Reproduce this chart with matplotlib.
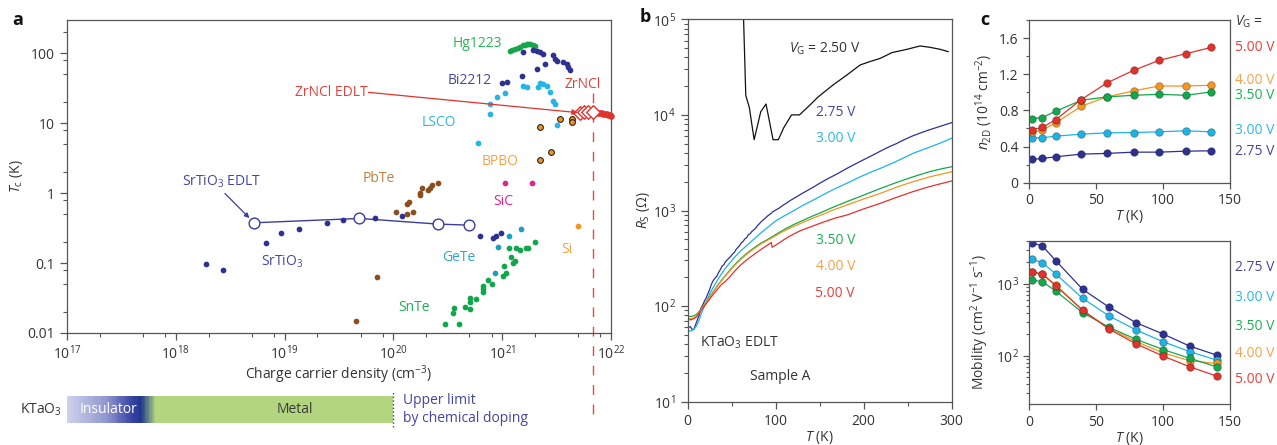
import matplotlib
matplotlib.use("Agg")
import matplotlib.pyplot as plt
import numpy as np
from matplotlib.colors import LinearSegmentedColormap
from matplotlib.ticker import LogLocator, NullFormatter, FixedLocator, MultipleLocator

plt.rcParams['font.family'] = ['Open Sans', 'DejaVu Sans']
plt.rcParams['mathtext.fontset'] = 'custom'
plt.rcParams['mathtext.rm'] = 'Open Sans'
plt.rcParams['mathtext.it'] = 'Open Sans:italic'
plt.rcParams['mathtext.bf'] = 'Open Sans:bold'
plt.rcParams['axes.edgecolor'] = '#555555'
plt.rcParams['xtick.color'] = '#555555'
plt.rcParams['ytick.color'] = '#555555'
plt.rcParams['xtick.labelcolor'] = '#333333'
plt.rcParams['ytick.labelcolor'] = '#333333'
plt.rcParams['axes.labelcolor'] = '#333333'

# ---------------- panel a: Tc versus carrier density ----------------
hg_n = [1.18e21, 1.23e21, 1.31e21, 1.40e21, 1.46e21, 1.55e21, 1.62e21, 1.69e21, 1.73e21, 1.80e21, 1.92e21, 2.0e21]
hg_tc = [108, 112, 114, 120, 123, 130, 133, 134, 135, 134, 130, 127]

bi_n = [1.54e21, 1.93e21, 2.08e21, 2.22e21, 2.36e21, 2.95e21, 3.06e21, 3.17e21, 3.60e21, 3.92e21,
        4.05e21, 4.20e21, 2.47e21, 2.10e21, 1.51e21, 9.9e20, 1.10e21]
bi_tc = [104, 110, 108, 104, 99, 94, 84, 79, 75, 71, 64, 58, 71, 60, 47, 38, 39]

lsco_n = [1.54e21, 1.68e21, 2.15e21, 2.22e21, 2.39e21, 2.56e21, 2.75e21, 2.95e21, 3.06e21, 3.17e21,
          1.06e21, 8.9e20, 7.7e20, 7.8e20, 6.0e20]
lsco_tc = [34, 33, 33, 38, 37, 34, 28, 21, 19, 9.4, 27, 24, 19, 13.5, 5.3]

bpbo_n = [3.40e21, 4.35e21, 4.41e21, 2.22e21, 2.79e21, 2.22e21]
bpbo_tc = [11.4, 11.7, 10.4, 8.7, 3.9, 3.0]

zr_edlt_n = [5.19e21, 5.65e21, 6.18e21, 6.79e21]
zr_edlt_tc = [14.0, 14.3, 14.6, 14.6]

zr_n = [7.3e21, 7.6e21, 7.9e21, 8.2e21, 8.5e21, 8.8e21, 9.1e21, 9.4e21, 9.7e21, 1.0e22]
zr_tc = [14.4, 14.2, 13.9, 13.8, 13.7, 13.5, 13.4, 13.2, 13.0, 12.7]

sic_n = [1.06e21, 1.89e21]
sic_tc = [1.4, 1.4]

pbte_n = [2.59e20, 2.25e20, 2.17e20, 1.82e20, 1.76e20, 2.09e20, 1.76e20, 1.40e20, 1.34e20, 1.50e20,
          1.34e20, 1.06e20, 7.0e19, 4.5e19]
pbte_tc = [1.38, 1.30, 1.17, 1.17, 1.01, 1.10, 0.94, 0.75, 0.71, 0.54, 0.51, 0.54, 0.064, 0.0148]

sto_edlt_n = [5.2e18, 4.86e19, 2.59e20, 4.95e20]
sto_edlt_tc = [0.377, 0.435, 0.361, 0.349]

sto_n = [1.9e18, 2.7e18, 6.7e18, 9.2e18, 1.36e19, 2.44e19, 3.46e19, 6.8e19, 1.19e20, 2.41e20,
         6.25e20, 8.3e20, 8.7e20, 9.75e20]
sto_tc = [0.096, 0.079, 0.195, 0.271, 0.303, 0.377, 0.411, 0.435, 0.474, 0.377, 0.245, 0.23, 0.243, 0.266]

gete_n = [1.49e21, 1.16e21, 9.2e20, 8.6e20]
gete_tc = [0.306, 0.243, 0.168, 0.071]

snte_n = [2.0e21, 1.74e21, 1.66e21, 1.46e21, 1.34e21, 1.16e21, 1.20e21, 1.31e21, 1.27e21, 1.04e21,
          1.08e21, 1.02e21, 8.0e20, 7.4e20, 6.7e20, 6.7e20, 6.7e20, 5.8e20, 5.06e20, 5.06e20,
          5.06e20, 4.55e20, 3.63e20, 3.51e20, 2.98e20, 4.03e20]
snte_tc = [0.201, 0.162, 0.162, 0.153, 0.166, 0.166, 0.123, 0.107, 0.099, 0.091,
           0.071, 0.065, 0.051, 0.057, 0.047, 0.042, 0.038, 0.031, 0.032, 0.028,
           0.0218, 0.0238, 0.0225, 0.0191, 0.0134, 0.0134]

si_n = [4.94e21]
si_tc = [0.338]

doping_limit_n = 6.8e21
metal_limit_n = 1e20

# ---------------- panel b: sheet resistance ----------------
T_275 = [1, 3, 5, 7, 9, 11, 13, 15, 17, 19, 21, 23, 25, 27, 29, 31, 33, 35, 37, 39, 41, 43, 45, 47, 49,
         51, 53, 55, 57, 59, 61, 63, 65, 67, 69, 71, 73, 75, 77, 79, 81, 83, 85, 88, 91, 94, 97, 100,
         104, 108, 112, 117, 122, 128, 135, 143, 150, 160, 170, 181, 190, 200, 210, 219, 228, 237,
         246, 256, 265, 275, 288, 300]
R_275 = [60, 61, 57, 57, 64, 72, 80, 95, 102, 113, 122, 135, 150, 170, 185, 196, 205, 224, 240, 262,
         270, 292, 305, 318, 332, 350, 365, 392, 410, 430, 460, 475, 505, 520, 560, 572, 605, 625, 650,
         690, 720, 755, 785, 830, 880, 920, 975, 1010, 1060, 1130, 1190, 1280, 1360, 1470, 1600, 1760,
         1930, 2170, 2420, 2760, 3050, 3400, 3780, 4180, 4600, 5000, 5500, 6050, 6500, 7000, 7650, 8300]

T_300 = [1, 4, 7, 10, 13, 16, 19, 22, 26, 30, 34, 38, 43, 48, 54, 60, 67, 75, 83, 92, 101, 110, 120,
         130, 143, 155, 168, 181, 195, 210, 219, 235, 256, 275, 290, 300]
R_300 = [55, 55, 57, 62, 72, 86, 100, 116, 140, 163, 188, 215, 250, 285, 330, 375, 430, 500, 580, 680,
         790, 880, 990, 1120, 1290, 1480, 1700, 1930, 2230, 2560, 2760, 3200, 3960, 4600, 5200, 5700]

T_350 = [1, 4, 7, 10, 13, 16, 19, 22, 26, 30, 34, 38, 43, 48, 54, 60, 67, 75, 83, 92, 100, 110, 120,
         130, 140, 150, 165, 181, 200, 219, 237, 256, 275, 290, 300]
R_350 = [78, 78, 79, 82, 88, 95, 104, 114, 129, 146, 165, 184, 210, 238, 275, 312, 356, 405, 455, 505,
         560, 635, 710, 780, 860, 940, 1080, 1240, 1450, 1700, 1960, 2250, 2550, 2750, 2870]

T_400 = [1, 4, 7, 10, 13, 16, 19, 22, 26, 30, 34, 38, 43, 48, 54, 60, 67, 75, 83, 92, 100, 110, 120,
         130, 140, 150, 165, 181, 200, 219, 237, 256, 275, 290, 300]
R_400 = [74, 74, 75, 79, 86, 94, 103, 113, 128, 145, 163, 182, 207, 234, 270, 306, 348, 396, 445, 495,
         545, 615, 680, 745, 815, 885, 1010, 1143, 1320, 1514, 1750, 2000, 2250, 2420, 2545]

T_500 = [1, 4, 7, 10, 13, 16, 19, 22, 26, 30, 34, 38, 43, 48, 54, 60, 67, 75, 83, 90, 94, 95, 96, 101,
         110, 120, 128, 143, 155, 167, 181, 200, 219, 237, 256, 275, 290, 300]
R_500 = [72, 72, 74, 77, 84, 92, 100, 109, 122, 136, 151, 167, 182, 203, 235, 268, 304, 345, 390, 430,
         455, 462, 412, 440, 500, 565, 615, 693, 760, 830, 897, 1040, 1189, 1370, 1575, 1780, 1930, 2037]

T_250 = [62, 63.5, 66, 70, 75.5, 83, 89, 97, 103, 109, 118, 127, 139, 148.5, 165, 181, 196, 207, 219,
         232, 249, 264, 275, 287, 296]
R_250 = [2e5, 1e5, 16000, 12000, 5500, 10800, 13000, 5500, 5500, 7300, 10000, 10000, 12700, 15500,
         20500, 26200, 33300, 36100, 39100, 44800, 48500, 52600, 51000, 48500, 45900]

# ---------------- panel c: carrier density and mobility ----------------
T_n = [2, 10, 20, 39, 58, 78, 97, 117, 136]
n_275 = [0.257, 0.268, 0.287, 0.316, 0.324, 0.338, 0.338, 0.349, 0.353]
n_300 = [0.497, 0.497, 0.515, 0.537, 0.552, 0.555, 0.563, 0.574, 0.563]
n_350 = [0.71, 0.721, 0.791, 0.912, 0.949, 0.967, 0.978, 0.967, 1.004]
n_400 = [0.563, 0.58, 0.662, 0.846, 0.949, 1.015, 1.07, 1.07, 1.078]
n_500 = [0.588, 0.611, 0.699, 0.919, 1.103, 1.243, 1.353, 1.427, 1.497]

T_mu = [2, 10, 20, 40, 60, 80, 100, 120, 140]
mu_275 = [3775, 3390, 2120, 844, 472, 288, 201, 136, 102]
mu_300 = [2210, 1990, 1380, 631, 357, 228, 157, 114, 87]
mu_350 = [1137, 1078, 798, 398, 248, 169, 122, 92, 70]
mu_400 = [1486, 1380, 968, 425, 240, 157, 110, 85, 78]
mu_500 = [1486, 1365, 948, 433, 233, 146, 99, 70, 52]

gate_labels = ['2.75 V', '3.00 V', '3.50 V', '4.00 V', '5.00 V']

C_BLUE = '#2e3192'
C_CYAN = '#1cb4e6'
C_GREEN = '#12a84c'
C_ORANGE = '#f7941d'
C_RED = '#e2322c'
gate_text = ['#45469e', '#2bb7e6', '#1fae55', '#f5a24a', '#e2403a']

W, H = 1277, 445
fig = plt.figure(figsize=(W / 100, H / 100), dpi=100)


def box(l, t, r, b):
    return [l / W, 1 - b / H, (r - l) / W, (b - t) / H]


TXT = '#333333'
FS = 10

# ======== panel a ========
axa = fig.add_axes(box(67, 20, 611, 333))
axa.set_xscale('log')
axa.set_yscale('log')
axa.set_xlim(1e17, 1e22)
axa.set_ylim(0.01, 300)

dot = dict(s=17, linewidths=0, zorder=3)
axa.scatter(hg_n, hg_tc, color='#19a64a', **dot)
axa.scatter(bi_n, bi_tc, color=C_BLUE, **dot)
axa.scatter(lsco_n, lsco_tc, color='#22b5e5', **dot)
axa.scatter(bpbo_n, bpbo_tc, s=17, color='#f7941d', edgecolors='#222222', linewidths=0.8, zorder=3)
axa.scatter(sic_n, sic_tc, color='#e0238c', **dot)
axa.scatter(pbte_n, pbte_tc, color='#8a4f1f', **dot)
axa.scatter(sto_n, sto_tc, color=C_BLUE, **dot)
axa.scatter(gete_n, gete_tc, color='#1e9fc0', **dot)
axa.scatter(snte_n, snte_tc, color='#0ea84a', **dot)
axa.scatter(si_n, si_tc, color='#f7941d', **dot)
axa.scatter(zr_n, zr_tc, s=22, color='#e2322c', linewidths=0, zorder=4, clip_on=False)
axa.scatter(zr_edlt_n, zr_edlt_tc, s=48, marker='D', facecolors='white', edgecolors='#e2322c',
            linewidths=1.0, zorder=5)

axa.plot(sto_edlt_n, sto_edlt_tc, '-', color='#3a3d9c', lw=1.0, zorder=2)
axa.scatter(sto_edlt_n, sto_edlt_tc, s=60, facecolors='white', edgecolors='#3a3d9c', linewidths=1.0,
            zorder=4)

# upper bound from chemical doping
axa.plot([doping_limit_n, doping_limit_n], [26.8, 5.7e-4], color='#e8474a', lw=1.0,
         dashes=(7, 7), clip_on=False, zorder=1)

lbl = dict(fontsize=FS, va='center', zorder=6)
axa.text(1.0e21, 138, 'Hg1223', color='#2bb35a', ha='right', **lbl)
axa.text(8.0e20, 41, 'Bi2212', color='#45469e', ha='right', **lbl)
axa.text(5.47e21, 36, 'ZrNCl', color='#e2403a', ha='center', **lbl)
axa.text(5.8e19, 27.7, 'ZrNCl EDLT', color='#e2403a', ha='right', **lbl)
axa.text(2.6e20, 10.1, 'LSCO', color='#2bb7e6', ha='center', **lbl)
axa.text(9.5e20, 2.8, 'BPBO', color='#f5a24a', ha='center', **lbl)
axa.text(7.3e19, 1.64, 'PbTe', color='#c0813f', ha='center', **lbl)
axa.text(1.03e21, 0.75, 'SiC', color='#e0238c', ha='center', **lbl)
axa.text(2.63e18, 1.44, r'SrTiO$_3$ EDLT', color='#45469e', ha='center', **lbl)
axa.text(9.5e18, 0.104, r'SrTiO$_3$', color='#45469e', ha='center', **lbl)
axa.text(4.0e20, 0.12, 'GeTe', color='#2aa8c8', ha='center', **lbl)
axa.text(1.55e20, 0.0228, 'SnTe', color='#1fae55', ha='center', **lbl)
axa.text(3.9e21, 0.158, 'Si', color='#f5a24a', ha='center', **lbl)

axa.annotate('', xy=(4.95e21, 14.2), xytext=(5.9e19, 27.7),
             arrowprops=dict(arrowstyle='-|>', color='#e2322c', lw=0.9, mutation_scale=8,
                             shrinkA=0, shrinkB=0), zorder=6)
axa.annotate('', xy=(4.75e18, 0.44), xytext=(2.83e18, 0.99),
             arrowprops=dict(arrowstyle='-|>', color='#3a3d9c', lw=0.9, mutation_scale=7,
                             shrinkA=0, shrinkB=0), zorder=6)

axa.xaxis.set_major_locator(FixedLocator([1e17, 1e18, 1e19, 1e20, 1e21, 1e22]))
axa.set_xticklabels([r'$10^{17}$', r'$10^{18}$', r'$10^{19}$', r'$10^{20}$', r'$10^{21}$', r'$10^{22}$'])
axa.xaxis.set_minor_locator(LogLocator(base=10, subs=(2, 5, 8)))
axa.xaxis.set_minor_formatter(NullFormatter())
axa.yaxis.set_major_locator(FixedLocator([0.01, 0.1, 1, 10, 100]))
axa.set_yticklabels(['0.01', '0.1', '1', '10', '100'])
axa.yaxis.set_minor_locator(LogLocator(base=10, subs=(2, 5, 8)))
axa.yaxis.set_minor_formatter(NullFormatter())
axa.tick_params(which='both', direction='out', labelsize=FS)
axa.tick_params(which='major', length=5, width=0.9)
axa.tick_params(which='minor', length=3, width=0.8)
axa.set_xlabel(r'Charge carrier density (cm$^{-3}$)', fontsize=FS, labelpad=0)
axa.set_ylabel(r'$T_{\rm c}$ (K)', fontsize=FS, labelpad=2)

# phase bar for KTaO3
axbar = fig.add_axes(box(67, 396, 611, 423))
axbar.set_xscale('log')
axbar.set_xlim(1e17, 1e22)
axbar.set_ylim(0, 1)
axbar.axis('off')
bar_cmap = LinearSegmentedColormap.from_list(
    'ktao', [(0.0, '#cdd1ea'), (0.12, '#8f95cf'), (0.19, '#3f4aa5'), (0.225, '#1f3590'),
             (0.27, '#b3d57f'), (1.0, '#b3d57f')])
edges = np.logspace(17, np.log10(metal_limit_n), 301)
vals = np.linspace(0, 1, 300)[None, :]
axbar.pcolormesh(edges, [0, 1], vals, cmap=bar_cmap, shading='flat')
axbar.plot([metal_limit_n, metal_limit_n], [-0.15, 1.2], ':', color='#3c3f99', lw=1.0, clip_on=False)
axbar.text(-0.009, 0.5, r'KTaO$_3$', transform=axbar.transAxes, ha='right', va='center',
           fontsize=FS, color=TXT)
axbar.text(2.4e17, 0.5, 'Insulator', ha='center', va='center', fontsize=FS, color='white')
axbar.text(1.25e19, 0.5, 'Metal', ha='center', va='center', fontsize=FS, color='#3a3a3a')
axbar.text(1.22e20, 0.85, 'Upper limit', ha='left', va='center', fontsize=FS, color='#45469e')
axbar.text(1.22e20, 0.18, 'by chemical doping', ha='left', va='center', fontsize=FS, color='#45469e')

# ======== panel b ========
axb = fig.add_axes(box(687.7, 19.3, 951.7, 401.7))
axb.set_yscale('log')
axb.set_xlim(0, 300)
axb.set_ylim(10, 1e5)
axb.plot(T_250, R_250, color='#111111', lw=0.9)
axb.plot(T_275, R_275, color=C_BLUE, lw=0.9)
axb.plot(T_300, R_300, color=C_CYAN, lw=0.9)
axb.plot(T_350, R_350, color=C_GREEN, lw=0.9)
axb.plot(T_400, R_400, color=C_ORANGE, lw=0.9)
axb.plot(T_500, R_500, color=C_RED, lw=0.9)
axb.text(115, 49000, r'$V_{\rm G}$ = 2.50 V', fontsize=FS, color=TXT, ha='left', va='center')
b_label_y = [10500, 5600, 490, 257, 137]
for lab, yv, c in zip(gate_labels, b_label_y, gate_text):
    axb.text(190, yv, lab, fontsize=FS, color=c, ha='right', va='center')
axb.text(14, 41, r'KTaO$_3$ EDLT', fontsize=FS, color=TXT, ha='left', va='center')
axb.text(71, 18.2, 'Sample A', fontsize=FS, color=TXT, ha='left', va='center')
axb.xaxis.set_major_locator(MultipleLocator(100))
axb.xaxis.set_minor_locator(MultipleLocator(50))
axb.yaxis.set_major_locator(LogLocator(base=10, numticks=10))
axb.yaxis.set_minor_locator(LogLocator(base=10, subs=np.arange(2, 10), numticks=10))
axb.yaxis.set_minor_formatter(NullFormatter())
axb.tick_params(which='both', direction='out', labelsize=FS)
axb.tick_params(which='major', length=5, width=0.9)
axb.tick_params(which='minor', length=3, width=0.8)
axb.set_xlabel(r'$T$ (K)', fontsize=FS, labelpad=0)
axb.set_ylabel(r'$R_{\rm S}$ ($\Omega$)', fontsize=FS, labelpad=0)

# ======== panel c ========
mk = dict(marker='o', markersize=5.5, lw=0.9, markeredgewidth=0.6)
axc1 = fig.add_axes(box(1029, 20, 1230, 182.7))
axc1.set_xlim(0, 150)
axc1.set_ylim(0, 1.8)
for yv, c in zip([n_275, n_300, n_400, n_350, n_500], [C_BLUE, C_CYAN, C_ORANGE, C_GREEN, C_RED]):
    axc1.plot(T_n, yv, color=c, markerfacecolor=c, markeredgecolor='#00000055', **mk)
axc1.xaxis.set_major_locator(MultipleLocator(50))
axc1.yaxis.set_major_locator(FixedLocator([0, 0.4, 0.8, 1.2, 1.6]))
axc1.set_yticklabels(['0', '0.4', '0.8', '1.2', '1.6'])
axc1.yaxis.set_minor_locator(MultipleLocator(0.2))
axc1.tick_params(which='both', direction='out', labelsize=FS)
axc1.tick_params(which='major', length=4, width=0.9)
axc1.tick_params(which='minor', length=2.5, width=0.8)
axc1.set_xlabel(r'$T$ (K)', fontsize=FS, labelpad=0)
axc1.set_ylabel(r'$n_{\rm 2D}$ (10$^{14}$ cm$^{-2}$)', fontsize=FS, labelpad=3)
tr1 = axc1.get_yaxis_transform()
axc1.text(1.025, 0.988, r'$V_{\rm G}$ =', transform=axc1.transAxes, fontsize=FS, color=TXT,
          ha='left', va='center')
c1_y = [0.35, 0.582, 0.968, 1.134, 1.498]
for lab, yv, c in zip(gate_labels, c1_y, gate_text):
    axc1.text(1.025, yv, lab, transform=tr1, fontsize=FS, color=c, ha='left', va='center')

axc2 = fig.add_axes(box(1029, 240.7, 1230, 404.3))
axc2.set_yscale('log')
axc2.set_xlim(0, 150)
axc2.set_ylim(21, 4020)
for yv, c in zip([mu_275, mu_300, mu_400, mu_350, mu_500], [C_BLUE, C_CYAN, C_ORANGE, C_GREEN, C_RED]):
    axc2.plot(T_mu, yv, color=c, markerfacecolor=c, markeredgecolor='#00000055', **mk)
axc2.xaxis.set_major_locator(MultipleLocator(50))
axc2.yaxis.set_major_locator(LogLocator(base=10, numticks=10))
axc2.yaxis.set_minor_locator(LogLocator(base=10, subs=np.arange(2, 10), numticks=10))
axc2.yaxis.set_minor_formatter(NullFormatter())
axc2.tick_params(which='both', direction='out', labelsize=FS)
axc2.tick_params(which='major', length=4, width=0.9)
axc2.tick_params(which='minor', length=2.5, width=0.8)
axc2.set_xlabel(r'$T$ (K)', fontsize=FS, labelpad=0)
axc2.set_ylabel(r'Mobility (cm$^2$ V$^{-1}$ s$^{-1}$)', fontsize=FS, labelpad=3)
tr2 = axc2.get_yaxis_transform()
c2_y = [1726, 659, 259, 109, 47]
for lab, yv, c in zip(gate_labels, c2_y, gate_text):
    axc2.text(1.025, yv, lab, transform=tr2, fontsize=FS, color=c, ha='left', va='center')

for ax in (axa, axb, axc1, axc2):
    for s in ax.spines.values():
        s.set_linewidth(0.9)

# panel letters
fig.text(12 / W, 1 - 20 / H, 'a', fontsize=13, fontweight='bold', color='#111111', va='center')
fig.text(640 / W, 1 - 17 / H, 'b', fontsize=13, fontweight='bold', color='#111111', va='center')
fig.text(980 / W, 1 - 20 / H, 'c', fontsize=13, fontweight='bold', color='#111111', va='center')

fig.savefig('out.png', dpi=100)
